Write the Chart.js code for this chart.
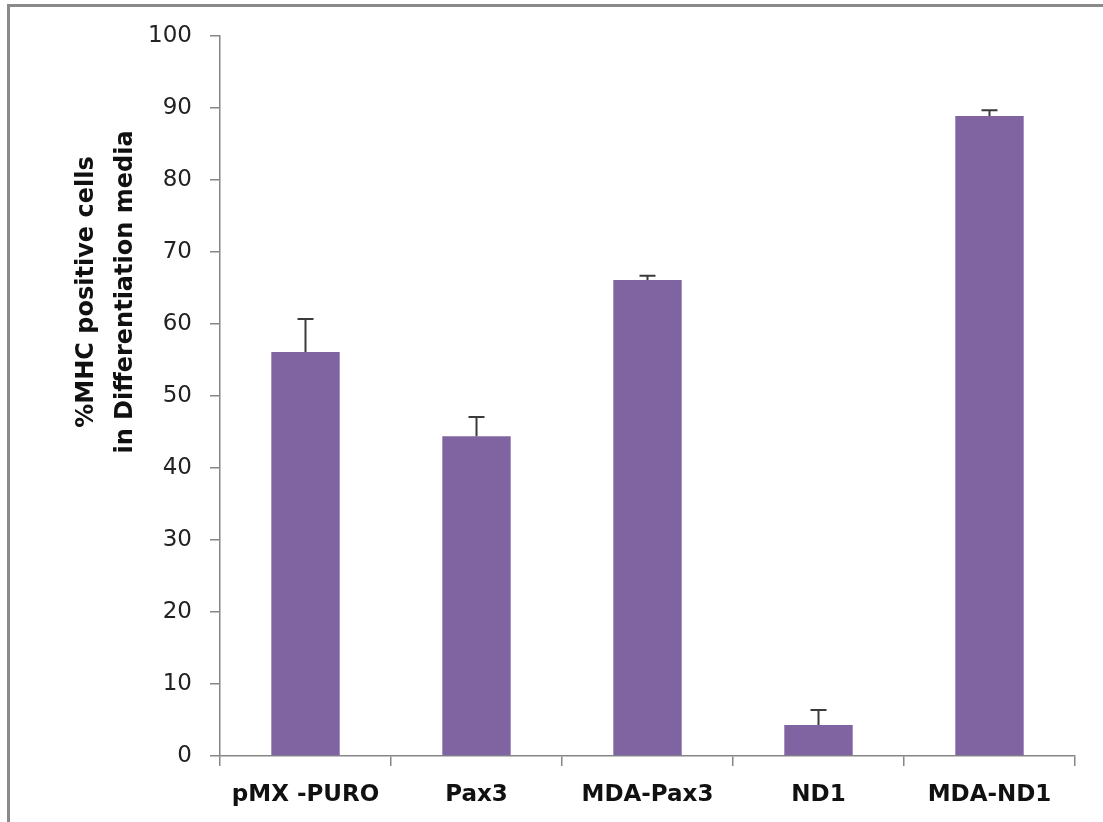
<!DOCTYPE html>
<html>
<head>
<meta charset="utf-8">
<script src="https://cdn.jsdelivr.net/npm/chart.js@4"></script>
<style>
  html, body { margin: 0; padding: 0; background: #fff; }
  #wrap { position: relative; width: 1103px; height: 822px; overflow: hidden; }
  #frame { position: absolute; left: 7px; top: 4px; width: 1200px; height: 900px;
           border-top: 3px solid #8a8a8a; border-left: 3px solid #8a8a8a; }
  canvas { position: absolute; left: 0; top: 0; }
</style>
</head>
<body>
<div id="wrap">
  <div id="frame"></div>
  <canvas id="chart" width="1103" height="822"></canvas>
</div>
<script>
// data
const groups = ['pMX -PURO', 'Pax3', 'MDA-Pax3', 'ND1', 'MDA-ND1'];
const mhcPercent = [56.1, 44.4, 66.1, 4.3, 88.9];
const mhcError = [4.6, 2.7, 0.6, 2.1, 0.8];
const yTitle = ['%MHC positive cells', 'in Differentiation media'];

const axisGray = '#868686';

// upward error bars drawn on the library's scales
const errorBars = {
    id: 'errorBars',
    afterDatasetsDraw(chart) {
        const ctx = chart.ctx;
        const yScale = chart.scales.y;
        const meta = chart.getDatasetMeta(0);
        ctx.save();
        ctx.strokeStyle = '#3a3a3a';
        ctx.lineWidth = 2;
        meta.data.forEach((bar, i) => {
            const top = yScale.getPixelForValue(mhcPercent[i] + mhcError[i]);
            const base = yScale.getPixelForValue(mhcPercent[i]);
            ctx.beginPath();
            ctx.moveTo(bar.x, base);
            ctx.lineTo(bar.x, top);
            ctx.moveTo(bar.x - 8, top);
            ctx.lineTo(bar.x + 8, top);
            ctx.stroke();
        });
        ctx.restore();
    }
};

// two-line rotated y axis title
const yTitlePlugin = {
    id: 'yTitlePlugin',
    afterDraw(chart) {
        const ctx = chart.ctx;
        ctx.save();
        ctx.fillStyle = '#111';
        ctx.font = 'bold 24px "DejaVu Sans"';
        ctx.textAlign = 'center';
        ctx.textBaseline = 'alphabetic';
        const xs = [93, 132];
        yTitle.forEach((line, i) => {
            ctx.save();
            ctx.translate(xs[i], 292);
            ctx.rotate(-Math.PI / 2);
            ctx.fillText(line, 0, 0);
            ctx.restore();
        });
        ctx.restore();
    }
};

const ctx = document.getElementById('chart').getContext('2d');
const chart = new Chart(ctx, {
    type: 'bar',
    data: {
        labels: groups,
        datasets: [{
            data: mhcPercent,
            backgroundColor: '#8064a2',
            categoryPercentage: 1.0,
            barPercentage: 0.4
        }]
    },
    options: {
        responsive: false,
        animation: false,
        layout: { padding: { left: 0, right: 28, top: 36, bottom: 0 } },
        plugins: {
            legend: { display: false },
            tooltip: { enabled: false }
        },
        scales: {
            x: {
                grid: {
                    display: true,
                    offset: true,
                    drawOnChartArea: false,
                    drawTicks: true,
                    tickLength: 10,
                    color: axisGray,
                    lineWidth: 1.5
                },
                border: { color: axisGray, width: 1.5 },
                ticks: {
                    color: '#111',
                    padding: 15,
                    font: { family: 'DejaVu Sans', size: 23, weight: 'bold' }
                },
                afterFit(scale) { scale.height = 66; }
            },
            y: {
                min: 0,
                max: 100,
                grid: {
                    display: true,
                    drawOnChartArea: false,
                    drawTicks: true,
                    tickLength: 10,
                    color: axisGray,
                    lineWidth: 1.5
                },
                border: { color: axisGray, width: 1.5 },
                ticks: {
                    stepSize: 10,
                    color: '#222',
                    padding: 18,
                    font: { family: 'DejaVu Sans', size: 23 }
                },
                afterFit(scale) { scale.width = 220; }
            }
        }
    },
    plugins: [errorBars, yTitlePlugin]
});
</script>
</body>
</html>
